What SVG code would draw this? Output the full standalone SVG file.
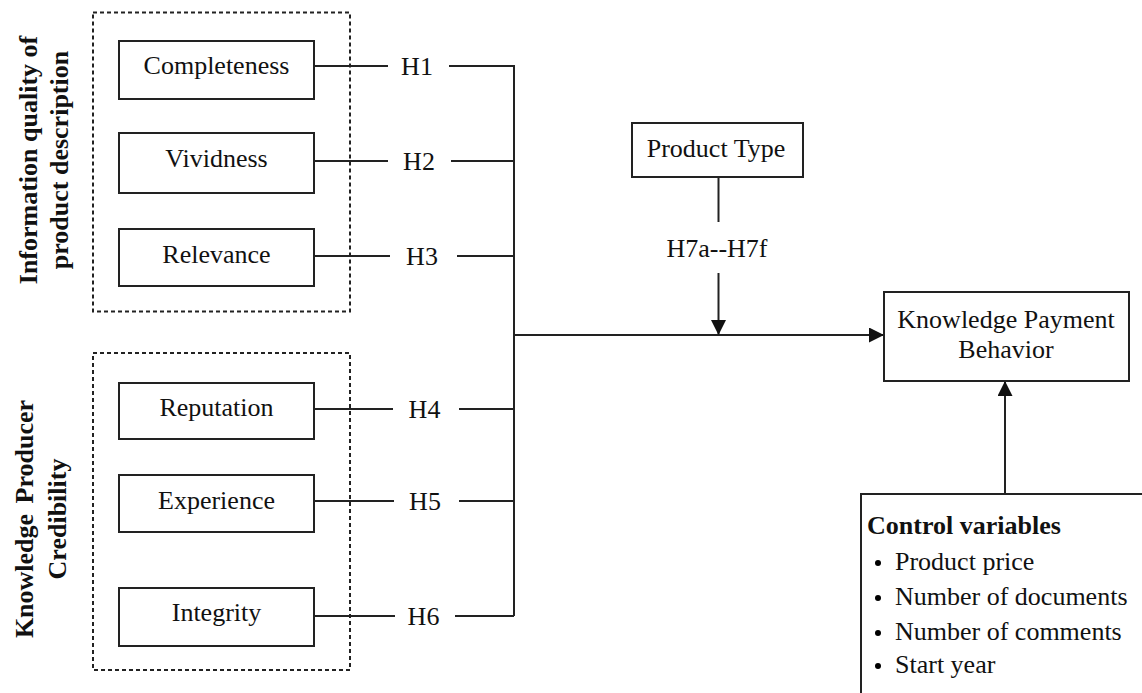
<svg xmlns="http://www.w3.org/2000/svg" width="1142" height="693" viewBox="0 0 1142 693">
<style>
text{font-family:"Liberation Serif","Times New Roman",serif;font-size:26px;fill:#111}
.c{text-anchor:middle}
.b{font-weight:bold}
.box{fill:#fff;stroke:#222;stroke-width:2}
.dash{fill:none;stroke:#222;stroke-width:2;stroke-dasharray:4 3}
.ln{fill:none;stroke:#222;stroke-width:2}
</style>
<defs>
<marker id="ah" viewBox="0 0 15 15" refX="15" refY="7.5" markerWidth="15" markerHeight="15" markerUnits="userSpaceOnUse" orient="auto">
<path d="M0,0 L15,7.5 L0,15 Z" fill="#111"/>
</marker>
</defs>
<rect width="1142" height="693" fill="#fff"/>

<g id="group-info-quality">
<rect class="dash" x="93" y="12.5" width="257" height="299"/>
<text class="c b" transform="translate(37,160) rotate(-90)">Information quality of</text>
<text class="c b" transform="translate(68,160) rotate(-90)">product description</text>
</g>
<g id="group-producer-credibility">
<rect class="dash" x="93" y="353" width="257" height="317"/>
<text class="c b" transform="translate(33,519) rotate(-90)" word-spacing="4">Knowledge Producer</text>
<text class="c b" transform="translate(66,519) rotate(-90)">Credibility</text>
</g>

<g id="connectors">
<path class="ln" d="M314,66 H388 M449,66 H514 V616"/>
<path class="ln" d="M314,161 H388 M451,161 H514"/>
<path class="ln" d="M314,256 H390 M457,256 H514"/>
<path class="ln" d="M314,409 H393 M459,409 H514"/>
<path class="ln" d="M314,501 H394 M459,501 H514"/>
<path class="ln" d="M314,616 H395 M455,616 H514"/>
<path class="ln" d="M514,335 H884" marker-end="url(#ah)"/>
<path class="ln" d="M718.5,177 V222"/>
<path class="ln" d="M718.5,273 V335" marker-end="url(#ah)"/>
<path class="ln" d="M1005,494 V381" marker-end="url(#ah)"/>
<text class="c" x="417" y="75">H1</text>
<text class="c" x="419" y="170">H2</text>
<text class="c" x="422" y="265">H3</text>
<text class="c" x="424.5" y="418">H4</text>
<text class="c" x="425" y="510">H5</text>
<text class="c" x="423.5" y="625">H6</text>
<text class="c" x="717" y="257">H7a--H7f</text>
</g>

<g id="completeness">
<rect class="box" x="119" y="41" width="195" height="58"/>
<text class="c" x="216.5" y="74">Completeness</text>
</g>
<g id="vividness">
<rect class="box" x="119" y="133" width="195" height="60"/>
<text class="c" x="216.5" y="167">Vividness</text>
</g>
<g id="relevance">
<rect class="box" x="119" y="229" width="195" height="57"/>
<text class="c" x="216.5" y="263">Relevance</text>
</g>
<g id="reputation">
<rect class="box" x="119" y="383" width="195" height="56"/>
<text class="c" x="216.5" y="416">Reputation</text>
</g>
<g id="experience">
<rect class="box" x="119" y="475" width="195" height="57"/>
<text class="c" x="216.5" y="509">Experience</text>
</g>
<g id="integrity">
<rect class="box" x="119" y="588" width="195" height="58"/>
<text class="c" x="216.5" y="621">Integrity</text>
</g>
<g id="product-type">
<rect class="box" x="632" y="123" width="171" height="54"/>
<text class="c" x="716" y="157">Product Type</text>
</g>
<g id="knowledge-payment-behavior">
<rect class="box" x="884" y="292" width="245" height="89"/>
<text class="c" x="1006" y="328">Knowledge Payment</text>
<text class="c" x="1006" y="358">Behavior</text>
</g>
<g id="control-variables">
<rect class="box" x="861" y="494" width="300" height="220"/>
<text class="b" x="867" y="534">Control variables</text>
<circle cx="878" cy="563" r="3"/>
<text x="895" y="570">Product price</text>
<circle cx="878" cy="598" r="3"/>
<text x="895" y="605">Number of documents</text>
<circle cx="878" cy="633" r="3"/>
<text x="895" y="640">Number of comments</text>
<circle cx="878" cy="666" r="3"/>
<text x="895" y="673">Start year</text>
</g>
</svg>
